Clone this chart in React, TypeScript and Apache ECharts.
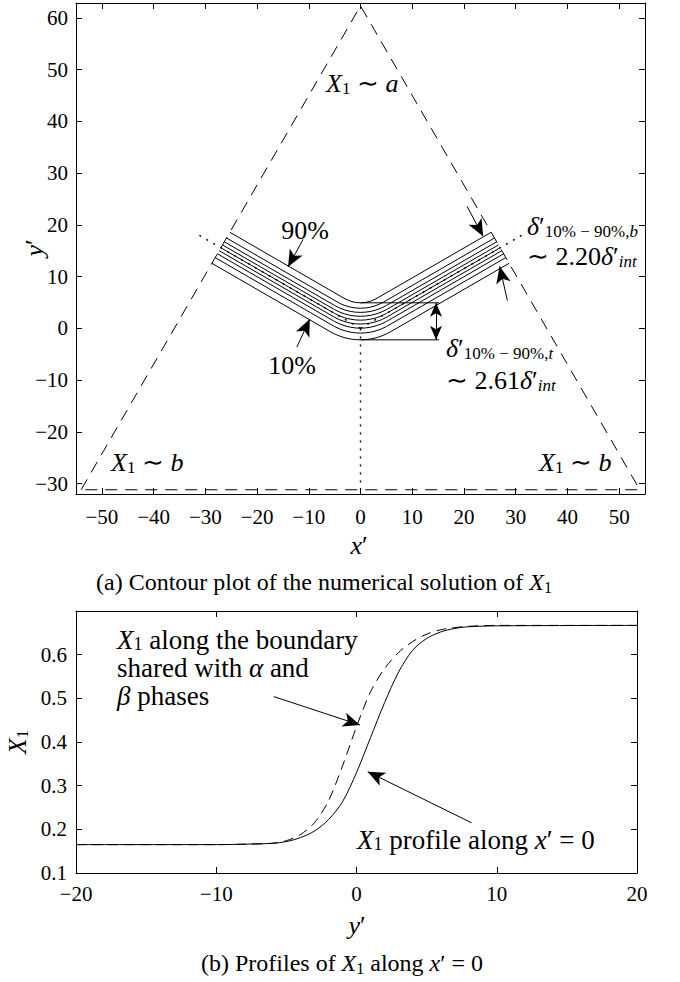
import React, { useEffect, useRef } from "react";
import * as echarts from "echarts";

const FONT = "Liberation Serif";

// ---------- (a) contour plot of X1 ----------
const xTicksA = [-50, -40, -30, -20, -10, 0, 10, 20, 30, 40, 50];
const yTicksA = [-30, -20, -10, 0, 10, 20, 30, 40, 50, 60];
const triangleCorners = [[-54, -31.18], [0, 62.35], [54, -31.18], [-54, -31.18]];
const boundaryDown = [[0, 0], [0, -31.18]];
const boundaryLeft = [[0, 0], [-31.2, 18.0]];
const boundaryRight = [[0, 0], [31.2, 18.0]];
const contourLevels = ["90%", "80%", "70%", "60%", "50%", "40%", "30%", "20%", "10%"];
// right halves (x >= 0) of each iso-line, mirrored for x < 0
const contour90 = [[0, 4.95], [1, 5.03], [2, 5.29], [3, 5.73], [25.27, 18.59]];
const contour80 = [[0, 3.9], [1, 3.96], [2, 4.13], [3, 4.42], [4, 4.85], [4.43, 5.09], [25.9, 17.48]];
const contour70 = [[0, 3.1], [1, 3.15], [2, 3.3], [3, 3.56], [4, 3.93], [5, 4.44], [26.33, 16.75]];
const contour60 = [[0, 2.35], [1, 2.4], [2, 2.54], [3, 2.79], [4, 3.15], [5, 3.63], [5.2, 3.74], [26.68, 16.14]];
const contour50 = [[0, 1.6], [1, 1.65], [2, 1.8], [3, 2.04], [4, 2.4], [5, 2.89], [5.17, 2.99], [27.0, 15.59]];
const contour40 = [[0, 0.85], [1, 0.9], [2, 1.05], [3, 1.3], [4, 1.66], [5, 2.15], [5.14, 2.23], [27.32, 15.03]];
const contour30 = [[0, 0.05], [1, 0.1], [2, 0.25], [3, 0.5], [4, 0.86], [5, 1.34], [5.17, 1.43], [27.67, 14.43]];
const contour20 = [[0, -0.9], [1, -0.85], [2, -0.71], [3, -0.46], [4, -0.11], [5, 0.36], [5.27, 0.51], [28.1, 13.69]];
const contour10 = [[0, -2.2], [1, -2.16], [2, -2.03], [3, -1.81], [4, -1.49], [5, -1.07], [5.82, -0.64], [28.73, 12.59]];
const contourHalves = [contour90, contour80, contour70, contour60, contour50, contour40, contour30, contour20, contour10];
const widthMarkTop = [[0, 4.95], [15.2, 4.95]];
const widthMarkBottom = [[0, -2.2], [15.2, -2.2]];
const arrowsA = [
  [[-11.1, 17.2], [-14.0, 11.9]],
  [[-12.3, -3.6], [-9.8, 1.8]],
  [[20.6, 23.6], [23.7, 17.8]],
  [[28.4, 5.4], [26.9, 12.0]],
];
const doubleArrowA = [[14.6, 4.95], [14.6, -2.2]];

// ---------- (b) profiles of X1 ----------
const xTicksB = [-20, -10, 0, 10, 20];
const yTicksB = [0.1, 0.2, 0.3, 0.4, 0.5, 0.6];
const profileY = [-20, -10, -8, -6, -5, -4, -3, -2, -1, 0, 1, 2, 3, 4, 5, 6, 7, 8, 10, 20];
const profileCenter = [0.165, 0.165, 0.166, 0.168, 0.172, 0.181, 0.196, 0.222, 0.263, 0.33, 0.41, 0.49, 0.56, 0.61, 0.637, 0.652, 0.66, 0.664, 0.666, 0.667];
const profileBoundary = [0.165, 0.165, 0.166, 0.168, 0.174, 0.188, 0.215, 0.265, 0.345, 0.435, 0.515, 0.568, 0.605, 0.63, 0.647, 0.657, 0.662, 0.665, 0.667, 0.667];
const arrowsB = [
  [[-5.9, 0.504], [0.25, 0.439]],
  [[8.2, 0.215], [0.8, 0.332]],
];

const minus = (v: number) => (v < 0 ? "\u2212" + Math.abs(v) : String(v));
const pickTick = (ticks: number[], v: number) => ticks.find((t) => Math.abs(t - v) < 1e-6);

const fullContour = (half: number[][]) => [
  ...half.slice(1).reverse().map(([x, y]) => [-x, y]),
  ...half,
];

const black = "#000";

function axis(gridIndex: number, pos: string, min: number, max: number, extra: any, labels: any) {
  return {
    gridIndex,
    type: "value",
    position: pos,
    min,
    max,
    ...extra,
    axisLine: { show: true, onZero: false, lineStyle: { color: black, width: 1 } },
    axisTick: { show: true, inside: true, length: 6, lineStyle: { color: black, width: 1 } },
    axisLabel: labels
      ? { show: true, color: black, fontFamily: FONT, fontSize: 21, ...labels }
      : { show: false },
    splitLine: { show: false },
  };
}

const rich = {
  i: { fontStyle: "italic", fontSize: 26, fontFamily: FONT, lineHeight: 28, color: black },
  r: { fontStyle: "normal", fontSize: 26, fontFamily: FONT, lineHeight: 28, color: black },
  s: { fontStyle: "normal", fontSize: 17, fontFamily: FONT, lineHeight: 13, verticalAlign: "bottom", color: black },
  si: { fontSize: 17, fontStyle: "italic", fontFamily: FONT, lineHeight: 13, verticalAlign: "bottom", color: black },
  bi: { fontStyle: "italic", fontSize: 27, fontFamily: FONT, lineHeight: 25, color: black },
  br: { fontStyle: "normal", fontSize: 27, fontFamily: FONT, lineHeight: 25, color: black },
  bs: { fontStyle: "normal", fontSize: 18, fontFamily: FONT, lineHeight: 12, verticalAlign: "bottom", color: black },
  c: { fontStyle: "normal", fontSize: 24, fontFamily: FONT, lineHeight: 26, color: black },
  ci: { fontSize: 24, fontStyle: "italic", fontFamily: FONT, lineHeight: 26, color: black },
  cs: { fontStyle: "normal", fontSize: 16, fontFamily: FONT, lineHeight: 12, verticalAlign: "bottom", color: black },
};

function txt(x: number, y: number, text: string, align = "left", rotation = 0) {
  return {
    type: "text",
    x,
    y,
    rotation,
    silent: true,
    style: {
      text,
      rich,
      fill: black,
      fontFamily: FONT,
      fontSize: 26,
      align,
      textAlign: align,
      verticalAlign: "middle",
      textVerticalAlign: "middle",
    },
  };
}

export default function App() {
  const ref = useRef<HTMLDivElement>(null);
  useEffect(() => {
    if (!ref.current) return;
    const chart = echarts.init(ref.current, null, { renderer: "svg" });
    const lineBase = (data: number[][], xi: number, yi: number, style: any) => ({
      type: "line",
      xAxisIndex: xi,
      yAxisIndex: yi,
      data,
      showSymbol: false,
      symbol: "none",
      silent: true,
      animation: false,
      lineStyle: { color: black, width: 1, ...style },
    });
    const arrowMark = (data: any[]) => ({
      silent: true,
      animation: false,
      symbol: ["none", "arrow"],
      symbolSize: [11, 17],
      label: { show: false },
      emphasis: { disabled: true },
      itemStyle: { color: black },
      lineStyle: { color: black, width: 1, type: "solid" },
      data,
    });
    const series: any[] = [];
    series.push({
      ...lineBase(triangleCorners, 0, 0, { type: [12, 8] }),
      markLine: arrowMark([
        ...arrowsA.map(([a, b]) => [{ coord: a }, { coord: b }]),
        [
          { coord: doubleArrowA[0], symbol: "arrow", symbolSize: [9, 14] },
          { coord: doubleArrowA[1], symbol: "arrow", symbolSize: [9, 14] },
        ],
      ]),
    });
    [boundaryDown, boundaryLeft, boundaryRight].forEach((b) =>
      series.push(lineBase(b, 0, 0, { type: [2, 6], width: 1.4 }))
    );
    contourHalves.forEach((h, k) =>
      series.push({ ...lineBase(fullContour(h), 0, 0, {}), name: contourLevels[k] })
    );
    series.push(lineBase(widthMarkTop, 0, 0, {}));
    series.push(lineBase(widthMarkBottom, 0, 0, {}));
    series.push({
      ...lineBase(profileY.map((y, i) => [y, profileBoundary[i]]), 2, 2, { type: [10, 6] }),
      smooth: 0.3,
    });
    series.push({
      ...lineBase(profileY.map((y, i) => [y, profileCenter[i]]), 2, 2, {}),
      smooth: 0.3,
      markLine: arrowMark(arrowsB.map(([a, b]) => [{ coord: a }, { coord: b }])),
    });

    const fmtA = (ticks: number[]) => (v: number) => {
      const t = pickTick(ticks, v);
      return t === undefined ? "" : minus(t);
    };
    const fmtB = (v: number) => {
      const t = pickTick(yTicksB, v);
      return t === undefined ? "" : t.toFixed(1);
    };

    const option: any = {
      animation: false,
      textStyle: { fontFamily: FONT },
      grid: [
        { left: 76, top: 3, width: 569, height: 491 },
        { left: 76, top: 611, width: 561, height: 262 },
      ],
      xAxis: [
        axis(0, "bottom", -55, 55, { splitNumber: 11 }, { formatter: fmtA(xTicksA), margin: 12 }),
        axis(0, "top", -55, 55, { splitNumber: 11 }, null),
        axis(1, "bottom", -20, 20, { interval: 10 }, { formatter: fmtA(xTicksB), margin: 10 }),
        axis(1, "top", -20, 20, { interval: 10 }, null),
      ],
      yAxis: [
        axis(0, "left", -32.0, 62.9, { splitNumber: 10 }, { formatter: fmtA(yTicksA), margin: 8 }),
        axis(0, "right", -32.0, 62.9, { splitNumber: 10 }, null),
        axis(1, "left", 0.1, 0.7, { interval: 0.1 }, { formatter: fmtB, margin: 9 }),
        axis(1, "right", 0.1, 0.7, { interval: 0.1 }, null),
      ],
      series,
      graphic: [
        txt(326, 83, "{i|X}{s|1}{r| \u223C }{i|a}"),
        txt(111, 462, "{i|X}{s|1}{r| \u223C }{i|b}"),
        txt(539, 462, "{i|X}{s|1}{r| \u223C }{i|b}"),
        txt(305, 230, "{r|90%}", "center"),
        txt(292, 365, "{r|10%}", "center"),
        txt(527, 226, "{i|\u03B4}{r|\u2032}{s|10% \u2212 90%,}{si|b}"),
        txt(527, 256, "{r|\u223C 2.20}{i|\u03B4}{r|\u2032}{si|int}"),
        txt(446, 348, "{i|\u03B4}{r|\u2032}{s|10% \u2212 90%,}{si|t}"),
        txt(446, 380, "{r|\u223C 2.61}{i|\u03B4}{r|\u2032}{si|int}"),
        txt(34, 248, "{i|y}{r|\u2032}", "center", Math.PI / 2),
        txt(359, 545, "{i|x}{r|\u2032}", "center"),
        txt(324, 582, "{c|(a) Contour plot of the numerical solution of }{ci|X}{cs|1}", "center"),
        txt(17, 742, "{i|X}{s|1}", "center", Math.PI / 2),
        txt(357, 925, "{i|y}{r|\u2032}", "center"),
        txt(342, 963, "{c|(b) Profiles of }{ci|X}{cs|1}{c| along }{ci|x}{c|\u2032 = 0}", "center"),
        txt(117, 640, "{bi|X}{bs|1}{br| along the boundary}"),
        txt(117, 668, "{br|shared with }{bi|\u03B1}{br| and}"),
        txt(117, 696, "{bi|\u03B2}{br| phases}"),
        txt(357, 840, "{bi|X}{bs|1}{br| profile along }{bi|x}{br|\u2032 = 0}"),
      ],
    };
    chart.setOption(option);
    return () => chart.dispose();
  }, []);
  return (
    <div
      ref={ref}
      style={{ position: "fixed", left: 0, top: 0, width: 680, height: 982, background: "#fff" }}
    />
  );
}
